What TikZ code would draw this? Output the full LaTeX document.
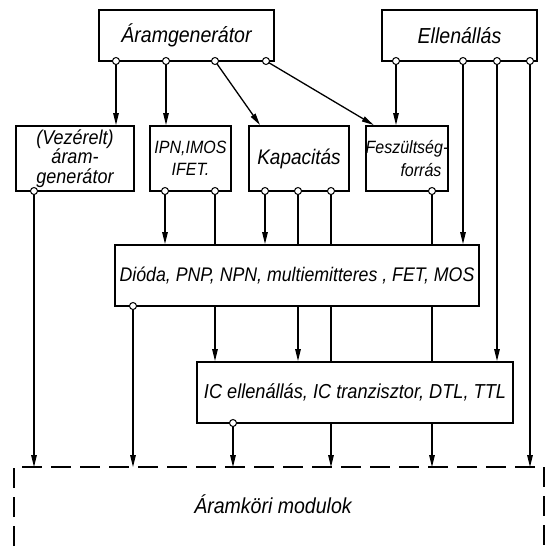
\documentclass[tikz,border=0pt]{standalone}
\usepackage{fontspec}
\setmainfont{Liberation Sans}
\newfontfamily\tech[FakeStretch=0.9]{Liberation Sans}
\usetikzlibrary{arrows.meta}
\newcommand{\techfont}[2]{\tech\itshape\fontsize{#1}{#2}\selectfont}
\begin{document}
\begin{tikzpicture}[x=1pt,y=-1pt,
  box/.style={draw, line width=2pt, inner sep=0pt, align=center},
  lbl/.style={inner sep=0pt, align=center},
  port/.style={circle, draw, fill=white, line width=1pt, inner sep=0pt, minimum size=7pt},
  conn/.style={line width=1.3pt},
  arr/.style={conn, -{Triangle[length=12pt,width=5.5pt]}},
  modbox/.style={draw, line width=2pt, dash pattern=on 20pt off 9pt}
]
\useasboundingbox (0,0) rectangle (550,549);
% boxes
\node[box, minimum width=175pt, minimum height=51pt, font=\techfont{21.7}{23}] (ag) at (186.5,35.5) {Áramgenerátor};
\node[box, minimum width=155pt, minimum height=51pt, font=\techfont{21.7}{23}] (el) at (459.5,35.5) {Ellenállás};
\node[box, minimum width=118pt, minimum height=65pt, font=\techfont{20}{19.5}] (vz) at (75,158.5) {(Vezérelt)\\áram-\\generátor};
\node[box, minimum width=81pt, minimum height=65pt, font=\techfont{17.8}{22}] (ipn) at (190.5,158.5) {IPN,IMOS\\IFET.};
\node[box, minimum width=100pt, minimum height=65pt, font=\techfont{21.1}{23}] (kap) at (299,158.5) {Kapacitás};
\node[box, minimum width=82pt, minimum height=65pt, font=\techfont{17.8}{23}] (fsz) at (407,158.5) {Feszültség-\\\hspace*{28pt}forrás};
\node[box, minimum width=364pt, minimum height=61pt, font=\techfont{19.7}{23}] (dio) at (297,275.5) {Dióda, PNP, NPN, multiemitteres , FET, MOS};
\node[box, minimum width=316pt, minimum height=61pt, font=\techfont{20.2}{23}] (ic) at (355,392.5) {IC ellenállás, IC tranzisztor, DTL, TTL};
\draw[modbox] (14,575) -- (14,467) -- (544,467) -- (544,575);
\node[lbl, font=\techfont{21.7}{23}] (mod) at (273,504) {Áramköri modulok};
\coordinate (modtop) at (0,467);
% connectors
\draw[arr] (116,61) -- (vz.north -| 116,0);
\draw[arr] (166,61) -- (ipn.north -| 166,0);
\draw[arr] (215,61) -- ([xshift=12pt]kap.north west);
\draw[arr] (266,61) -- ([xshift=9pt]fsz.north west);
\draw[arr] (396,61) -- (fsz.north -| 396,0);
\draw[arr] (463,61) -- (dio.north -| 463,0);
\draw[arr] (497,61) -- (ic.north -| 497,0);
\draw[arr] (530,61) -- (modtop -| 530,0);
\draw[arr] (34,191) -- (modtop -| 34,0);
\draw[arr] (165,191) -- (dio.north -| 165,0);
\draw[conn] (215,191) -- (dio.north -| 215,0);
\draw[arr] (dio.south -| 215,0) -- (ic.north -| 215,0);
\draw[arr] (265,191) -- (dio.north -| 265,0);
\draw[conn] (298,191) -- (dio.north -| 298,0);
\draw[arr] (dio.south -| 298,0) -- (ic.north -| 298,0);
\draw[conn] (331,191) -- (dio.north -| 331,0);
\draw[conn] (dio.south -| 331,0) -- (ic.north -| 331,0);
\draw[arr] (ic.south -| 331,0) -- (modtop -| 331,0);
\draw[conn] (432,191) -- (dio.north -| 432,0);
\draw[conn] (dio.south -| 432,0) -- (ic.north -| 432,0);
\draw[arr] (ic.south -| 432,0) -- (modtop -| 432,0);
\draw[arr] (133,306) -- (modtop -| 133,0);
\draw[arr] (233,423) -- (modtop -| 233,0);
% ports
\foreach \x/\n in {116/ag1,166/ag2,215/ag3,266/ag4} \node[port] (\n) at (\x,61) {};
\foreach \x/\n in {396/el1,463/el2,497/el3,530/el4} \node[port] (\n) at (\x,61) {};
\node[port] (vz1) at (34,191) {};
\foreach \x/\n in {165/ipn1,215/ipn2} \node[port] (\n) at (\x,191) {};
\foreach \x/\n in {265/kap1,298/kap2,331/kap3} \node[port] (\n) at (\x,191) {};
\node[port] (fsz1) at (432,191) {};
\node[port] (dio1) at (133,306) {};
\node[port] (ic1) at (233,423) {};
\end{tikzpicture}
\end{document}
